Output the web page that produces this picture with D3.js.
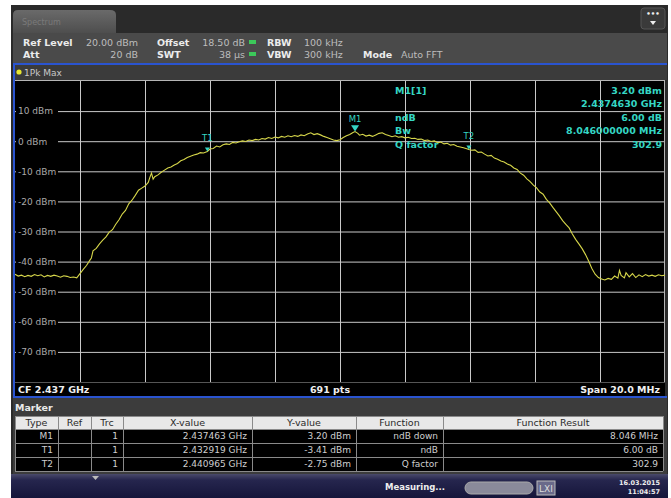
<!DOCTYPE html>
<html>
<head>
<meta charset="utf-8">
<title>Spectrum - ndB down</title>
<style>
  body { margin: 0; background: #fff; }
  svg { display: block; font-family: "DejaVu Sans", Verdana, sans-serif; }
</style>
</head>
<body>
<script src="https://d3js.org/d3.v7.min.js"></script>
<script>

// sweep settings
var centerGHz = 2.437;
var spanMHz = 20;
var levelTicks = [10, 0, -10, -20, -30, -40, -50, -60, -70];
var refLevel = 20, bottomLevel = -80;

// trace 1 (1Pk Max), offset from CF in MHz / level in dBm
var traceOffsetMHz = [-10.0,-9.9,-9.8,-9.7,-9.6,-9.5,-9.4,-9.3,-9.2,-9.1,-9.0,-8.9,-8.8,-8.7,-8.6,-8.5,-8.4,-8.3,-8.2,-8.1,
  -8.0,-7.9,-7.8,-7.7,-7.65,-7.6,-7.5,-7.4,-7.3,-7.2,-7.1,-7.0,-6.9,-6.8,-6.7,-6.6,-6.5,-6.4,-6.3,-6.2,-6.1,-6.0,-5.9,-5.85,-5.8,-5.75,-5.7,-5.6,-5.5,-5.4,-5.3,-5.2,-5.1,-5.0,
  -4.9,-4.8,-4.7,-4.6,-4.5,-4.4,-4.3,-4.2,-4.081,-4.0,-3.9,-3.8,-3.7,-3.6,-3.5,-3.4,-3.3,-3.2,-3.1,-3.0,-2.9,-2.8,-2.7,-2.6,-2.5,-2.4,-2.3,-2.2,-2.1,-2.0,
  -1.9,-1.8,-1.7,-1.6,-1.5,-1.4,-1.3,-1.2,-1.1,-1.0,-0.9,-0.8,-0.7,-0.6,-0.5,-0.4,-0.3,-0.2,-0.1,0.0,0.1,0.2,0.3,0.4,0.463,0.55,0.6,0.7,0.8,0.9,
  1.0,1.1,1.2,1.3,1.4,1.5,1.6,1.7,1.8,1.9,2.0,2.1,2.2,2.3,2.4,2.5,2.6,2.7,2.8,2.9,3.0,3.1,3.2,3.3,3.4,3.5,3.6,3.7,3.8,3.9,3.965,
  4.05,4.15,4.25,4.35,4.45,4.55,4.65,4.75,4.85,4.95,5.05,5.15,5.25,5.35,5.45,5.55,5.65,5.75,5.85,5.95,6.05,6.15,6.25,6.35,6.45,6.55,6.65,6.75,6.85,6.95,
  7.05,7.15,7.25,7.35,7.45,7.55,7.65,7.75,7.85,7.95,8.05,8.15,8.25,8.35,8.45,8.55,8.6,8.65,8.75,8.8,8.9,9.0,9.1,9.2,9.3,9.4,9.5,9.6,9.7,9.8,9.9,10.0];
var traceLevelDbm = [-44.2,-44.8,-44.5,-45.0,-44.6,-44.9,-44.3,-44.7,-44.4,-45.1,-44.6,-44.9,-44.5,-44.8,-45.2,-44.7,-44.9,-45.3,-45.1,-45.4,
  -44.0,-42.6,-41.3,-39.6,-38.8,-36.4,-35.6,-34.1,-32.9,-31.8,-30.2,-29.4,-27.6,-26.1,-24.2,-23.0,-20.8,-19.6,-18.0,-16.3,-15.6,-14.9,-13.7,-12.0,-10.6,-12.6,-11.8,-11.2,-10.3,-9.6,-8.9,-8.6,-7.9,-7.4,
  -6.5,-6.1,-5.4,-5.0,-4.6,-4.3,-3.8,-3.9,-3.41,-2.6,-2.4,-1.6,-1.9,-1.2,-0.9,-1.1,-0.4,-0.6,-0.2,0.1,-0.1,0.4,0.2,0.6,0.4,0.9,0.7,1.2,0.9,1.4,
  1.1,1.6,1.3,1.8,1.5,1.9,1.6,2.1,1.8,2.4,2.8,2.2,2.5,2.1,1.6,1.2,0.8,0.4,0.2,0.5,1.2,1.8,2.2,2.9,3.2,2.6,2.0,2.3,1.7,2.0,
  1.6,2.1,2.6,2.8,2.2,1.9,1.5,1.8,1.3,1.5,1.1,1.3,0.9,1.0,0.6,0.7,0.2,0.4,-0.1,0.1,-0.5,-0.3,-0.9,-0.7,-1.3,-1.1,-1.7,-1.9,-2.2,-2.5,-2.75,
  -3.0,-2.9,-3.7,-3.6,-4.3,-4.9,-4.7,-5.6,-6.0,-6.6,-6.9,-7.6,-8.0,-8.9,-9.4,-10.6,-11.3,-12.5,-13.4,-14.6,-15.5,-16.9,-17.6,-19.3,-20.5,-22.0,-23.4,-24.8,-26.4,-27.6,
  -28.8,-30.8,-32.6,-34.1,-35.7,-37.6,-39.8,-42.3,-44.2,-45.3,-45.8,-46.1,-45.6,-45.9,-44.8,-45.5,-42.9,-44.6,-45.4,-43.7,-45.1,-44.0,-45.3,-44.4,-45.0,-44.3,-44.8,-44.5,-44.9,-44.4,-44.7,-44.5];

// marker table
var markerTypes = ["M1", "T1", "T2"];
var markerRefs = ["", "", ""];
var markerTraces = ["1", "1", "1"];
var markerFreqGHz = [2.437463, 2.432919, 2.440965];
var markerLevels = [3.20, -3.41, -2.75];
var markerFunctions = ["ndB down", "ndB", "Q factor"];
var markerResults = ["8.046 MHz", "6.00 dB", "302.9"];

var W = 671, H = 498;
var plot = {left: 15, right: 665, top: 81, bottom: 382};
var cyan = "#35d6c4";

var svg = d3.select("body").append("svg")
  .attr("width", W).attr("height", H);

// instrument screen frame
svg.append("rect").attr("x", 11).attr("y", 5).attr("width", 657).attr("height", 493).attr("fill", "#2a2a2a");

var defs = svg.append("defs");
var g1 = defs.append("linearGradient").attr("id", "tabGrad").attr("x1", 0).attr("y1", 0).attr("x2", 0).attr("y2", 1);
g1.append("stop").attr("offset", "0%").attr("stop-color", "#6a6a6a");
g1.append("stop").attr("offset", "100%").attr("stop-color", "#4e4e4e");
var g2 = defs.append("linearGradient").attr("id", "statGrad").attr("x1", 0).attr("y1", 0).attr("x2", 0).attr("y2", 1);
g2.append("stop").attr("offset", "0%").attr("stop-color", "#4a4a6a");
g2.append("stop").attr("offset", "25%").attr("stop-color", "#26264e");
g2.append("stop").attr("offset", "100%").attr("stop-color", "#15153a");

// tab + top right button
svg.append("path").attr("d", "M13,33 L13,15 Q13,10 18,10 L110,10 Q116,10 116,15 L116,33 Z").attr("fill", "url(#tabGrad)");
svg.append("text").attr("x", 22).attr("y", 25).attr("fill", "#7a7a7a").attr("font-size", 8).text("Spectrum");
svg.append("rect").attr("x", 641).attr("y", 8).attr("width", 24).attr("height", 21).attr("rx", 3).attr("fill", "#3a3a3a").attr("stroke", "#555");
svg.append("text").attr("x", 653).attr("y", 16).attr("text-anchor", "middle").attr("fill", "#eee").attr("font-size", 7).attr("font-weight", "bold").text("•••");
svg.append("path").attr("d", "M650,21 L656,21 L653,25 Z").attr("fill", "#eee");

// settings header
svg.append("rect").attr("x", 13).attr("y", 33).attr("width", 654).attr("height", 30).attr("fill", "#4a4a4a");
svg.append("rect").attr("x", 13).attr("y", 63).attr("width", 654).attr("height", 2).attr("fill", "#2a54d0");
svg.append("rect").attr("x", 15).attr("y", 65).attr("width", 652).attr("height", 15).attr("fill", "#3b3b3b");

var hdr = [
  {t: "Ref Level", x: 23, y: 46, b: true}, {t: "20.00 dBm", x: 138, y: 46, a: "end"},
  {t: "Offset", x: 157, y: 46, b: true}, {t: "18.50 dB", x: 245, y: 46, a: "end"},
  {t: "RBW", x: 267, y: 46, b: true}, {t: "100 kHz", x: 304, y: 46},
  {t: "Att", x: 23, y: 58, b: true}, {t: "20 dB", x: 138, y: 58, a: "end"},
  {t: "SWT", x: 157, y: 58, b: true}, {t: "38 µs", x: 245, y: 58, a: "end"},
  {t: "VBW", x: 267, y: 58, b: true}, {t: "300 kHz", x: 304, y: 58},
  {t: "Mode", x: 363, y: 58, b: true}, {t: "Auto FFT", x: 401, y: 58}
];
svg.selectAll(".hdr").data(hdr).enter().append("text")
  .attr("class", "hdr")
  .attr("x", function(d) { return d.x; })
  .attr("y", function(d) { return d.y; })
  .attr("text-anchor", function(d) { return d.a || "start"; })
  .attr("font-size", 9.5)
  .attr("font-weight", function(d) { return d.b ? "bold" : "normal"; })
  .attr("fill", function(d) { return d.b ? "#ececec" : "#bdbdbd"; })
  .text(function(d) { return d.t; });
[42, 54].forEach(function(yy) {
  svg.append("rect").attr("x", 249).attr("y", yy - 2).attr("width", 7).attr("height", 4).attr("fill", "#3cc85a");
});
svg.append("circle").attr("cx", 19).attr("cy", 72).attr("r", 2.6).attr("fill", "#e6e630");
svg.append("text").attr("x", 24).attr("y", 76).attr("font-size", 9).attr("fill", "#c8c8c8").text("1Pk Max");

// plot area
svg.append("rect").attr("x", plot.left).attr("y", 80).attr("width", plot.right - plot.left).attr("height", plot.bottom - 80 + 16).attr("fill", "#000");

var x = d3.scaleLinear().domain([centerGHz - spanMHz / 2000, centerGHz + spanMHz / 2000]).range([plot.left, plot.right]);
var y = d3.scaleLinear().domain([bottomLevel, refLevel]).range([plot.bottom, plot.top]);

// grid
svg.append("g")
  .attr("transform", "translate(0," + plot.bottom + ")")
  .call(d3.axisBottom(x).tickValues(d3.range(1, 10).map(function(i) { return x.domain()[0] + i * 0.002; }))
    .tickSize(-(plot.bottom - plot.top)).tickFormat(""))
  .call(function(g) { g.select(".domain").remove(); })
  .selectAll("line").attr("stroke", "#c9c9c9").attr("stroke-width", 1);

svg.append("g")
  .attr("transform", "translate(" + plot.left + ",0)")
  .call(d3.axisLeft(y).tickValues(levelTicks).tickSize(-(plot.right - plot.left)).tickFormat(""))
  .call(function(g) { g.select(".domain").remove(); })
  .selectAll("line").attr("stroke", "#c9c9c9").attr("stroke-width", 1);

// level labels, sitting on a black patch over the grid line
var lab = svg.append("g")
  .attr("transform", "translate(" + plot.left + ",0)")
  .call(d3.axisRight(y).tickValues(levelTicks).tickSize(0).tickPadding(3).tickFormat(function(d) { return d + " dBm"; }));
lab.select(".domain").remove();
lab.selectAll(".tick").insert("rect", "text").attr("x", 1).attr("y", -6).attr("width", 42).attr("height", 12).attr("fill", "#000");
lab.selectAll("text").attr("fill", "#a9a9a9").attr("font-size", 9).attr("font-family", "DejaVu Sans, sans-serif");

// frame lines
svg.append("line").attr("x1", plot.left).attr("x2", plot.right).attr("y1", 80.5).attr("y2", 80.5).attr("stroke", "#b5b5b5");
svg.append("line").attr("x1", plot.right - 0.5).attr("x2", plot.right - 0.5).attr("y1", 80).attr("y2", plot.bottom).attr("stroke", "#b5b5b5");
svg.append("line").attr("x1", plot.left).attr("x2", plot.right).attr("y1", plot.bottom + 0.5).attr("y2", plot.bottom + 0.5).attr("stroke", "#555");

// trace
var trace = traceOffsetMHz.map(function(f, i) { return {f: centerGHz + f / 1000, v: traceLevelDbm[i]}; });
svg.append("path")
  .datum(trace)
  .attr("fill", "none")
  .attr("stroke", "#d6d64a")
  .attr("stroke-width", 1.1)
  .attr("d", d3.line().x(function(d) { return x(d.f); }).y(function(d) { return y(d.v); }));

// markers
markerTypes.forEach(function(m, i) {
  var mx = x(markerFreqGHz[i]), my = y(markerLevels[i]);
  var s = i === 0 ? 4 : 2.5;
  svg.append("path").attr("d", "M" + (mx - s) + "," + (my - s * 1.6) + " L" + (mx + s) + "," + (my - s * 1.6) + " L" + mx + "," + my + " Z").attr("fill", cyan);
  svg.append("text").attr("x", mx).attr("y", my - (i === 0 ? 10 : 10)).attr("text-anchor", "middle")
    .attr("font-size", 8.5).attr("fill", cyan).text(m);
});

// marker info block
var info = [["M1[1]", "3.20 dBm", 94], ["", "2.4374630 GHz", 107], ["ndB", "6.00 dB", 121], ["Bw", "8.046000000 MHz", 134], ["Q factor", "302.9", 148]];
info.forEach(function(r) {
  svg.append("text").attr("x", 395).attr("y", r[2]).attr("font-size", 9.5).attr("font-weight", "bold").attr("fill", cyan).text(r[0]);
  svg.append("text").attr("x", 662).attr("y", r[2]).attr("text-anchor", "end").attr("font-size", 9.5).attr("font-weight", "bold").attr("fill", cyan).text(r[1]);
});

// footer row
svg.append("text").attr("x", 18).attr("y", 393).attr("font-size", 9.5).attr("font-weight", "bold").attr("fill", "#f0f0f0").text("CF 2.437 GHz");
svg.append("text").attr("x", 330).attr("y", 393).attr("text-anchor", "middle").attr("font-size", 9.5).attr("font-weight", "bold").attr("fill", "#f0f0f0").text("691 pts");
svg.append("text").attr("x", 660).attr("y", 393).attr("text-anchor", "end").attr("font-size", 9.5).attr("font-weight", "bold").attr("fill", "#f0f0f0").text("Span 20.0 MHz");

// blue edges
svg.append("rect").attr("x", 13).attr("y", 63).attr("width", 2).attr("height", 335).attr("fill", "#2a54d0");
svg.append("rect").attr("x", 13).attr("y", 396).attr("width", 654).attr("height", 2).attr("fill", "#2a54d0");

// marker table
svg.append("rect").attr("x", 13).attr("y", 398).attr("width", 654).attr("height", 76).attr("fill", "#3c3c3c");
svg.append("text").attr("x", 15).attr("y", 411).attr("font-size", 9.5).attr("font-weight", "bold").attr("fill", "#eaeaea").text("Marker");

var cols = [15, 58, 91, 123, 252, 356, 443, 663];
var heads = ["Type", "Ref", "Trc", "X-value", "Y-value", "Function", "Function Result"];
var rowY = [416, 429, 443, 457, 471];
svg.append("rect").attr("x", cols[0]).attr("y", rowY[0]).attr("width", cols[7] - cols[0]).attr("height", rowY[1] - rowY[0]).attr("fill", "#e8e8e8");
svg.append("rect").attr("x", cols[0]).attr("y", rowY[1]).attr("width", cols[7] - cols[0]).attr("height", rowY[4] - rowY[1]).attr("fill", "#000");
heads.forEach(function(h, j) {
  svg.append("text").attr("x", (cols[j] + cols[j + 1]) / 2).attr("y", rowY[0] + 10).attr("text-anchor", "middle")
    .attr("font-size", 9.5).attr("fill", "#2a2a2a").text(h);
});
cols.forEach(function(c) {
  svg.append("line").attr("x1", c + 0.5).attr("x2", c + 0.5).attr("y1", rowY[0]).attr("y2", rowY[4]).attr("stroke", "#8a8a8a");
});
rowY.forEach(function(r) {
  svg.append("line").attr("x1", cols[0]).attr("x2", cols[7]).attr("y1", r + 0.5).attr("y2", r + 0.5).attr("stroke", "#8a8a8a");
});
markerTypes.forEach(function(m, i) {
  var cells = [m, markerRefs[i], markerTraces[i], markerFreqGHz[i].toFixed(6) + " GHz",
    markerLevels[i].toFixed(2) + " dBm", markerFunctions[i], markerResults[i]];
  cells.forEach(function(c, j) {
    svg.append("text").attr("x", cols[j + 1] - 5).attr("y", rowY[i + 1] + 10).attr("text-anchor", "end")
      .attr("font-size", 9).attr("fill", "#cfcfcf").text(c);
  });
});

// status bar
svg.append("rect").attr("x", 11).attr("y", 474).attr("width", 657).attr("height", 24).attr("fill", "url(#statGrad)");
svg.append("path").attr("d", "M92,476 L99,476 L95.5,480 Z").attr("fill", "#bbb");
svg.append("text").attr("x", 385).attr("y", 490).attr("font-size", 8.5).attr("font-weight", "bold").attr("fill", "#eee").text("Measuring...");
svg.append("rect").attr("x", 465).attr("y", 482).attr("width", 68).attr("height", 12).attr("rx", 6).attr("fill", "#8a8a9a").attr("stroke", "#aaa");
svg.append("rect").attr("x", 537).attr("y", 481).attr("width", 18).attr("height", 14).attr("fill", "#6a6a8a").attr("stroke", "#bbb");
svg.append("text").attr("x", 546).attr("y", 492).attr("text-anchor", "middle").attr("font-size", 9).attr("fill", "#ddd").text("LXI");
svg.append("text").attr("x", 660).attr("y", 485).attr("text-anchor", "end").attr("font-size", 6.5).attr("font-weight", "bold").attr("fill", "#eee").text("16.03.2015");
svg.append("text").attr("x", 660).attr("y", 494).attr("text-anchor", "end").attr("font-size", 6.5).attr("font-weight", "bold").attr("fill", "#eee").text("11:04:57");

</script>
</body>
</html>
